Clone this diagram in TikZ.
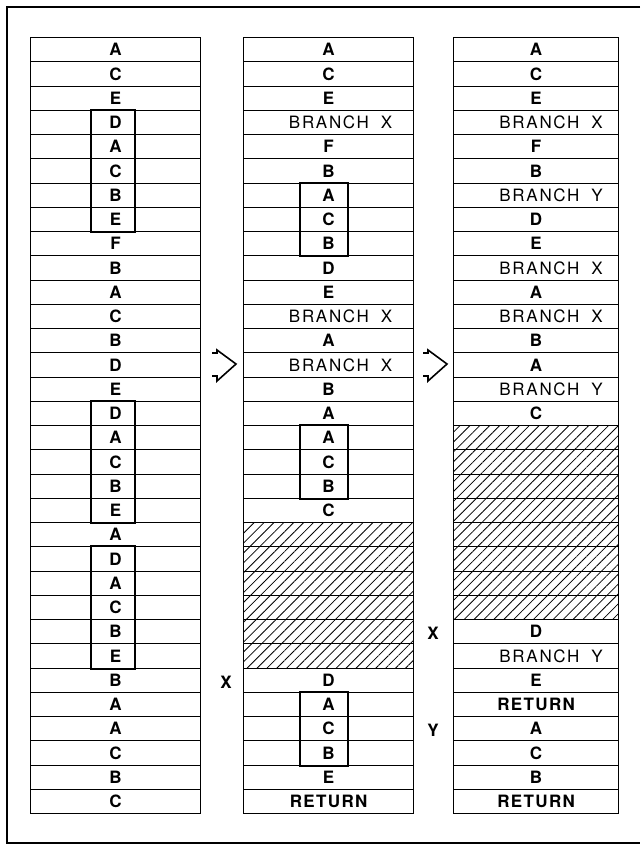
\documentclass[tikz,border=0pt]{standalone}
\usepackage{fontspec}
\setmainfont{TeX Gyre Heros}
\usetikzlibrary{patterns.meta}
\begin{document}
\begin{tikzpicture}[x=1pt,y=-1pt,
  cellbase/.style={draw, line width=1.2pt, minimum height=24.25pt, inner sep=0pt, anchor=north west},
  letterc/.style={font=\fontsize{17}{17}\selectfont\bfseries},
  branchc/.style={font=\fontsize{17}{17}\selectfont\addfontfeature{LetterSpace=10}},
  returnc/.style={font=\fontsize{17}{17}\selectfont\bfseries\addfontfeature{LetterSpace=8}},
  hatchc/.style={pattern={Lines[angle=45,distance=7pt,line width=0.8pt]}},
  boxline/.style={line width=2pt},
  arrowline/.style={line width=1.6pt, line join=miter},
  tag/.style={font=\fontsize{17}{17}\selectfont\bfseries, inner sep=0pt}]
\useasboundingbox (0,0) rectangle (640,846);
% frame
\draw[line width=2pt] (640,7) -- (7,7) -- (7,843) -- (640,843);
% left column
\foreach \t [count=\i] in {A,C,E,D,A,C,B,E,F,B,A,C,B,D,E,D,A,C,B,E,A,D,A,C,B,E,B,A,A,C,B,C}
  \node[cellbase, letterc, minimum width=170pt] (L\i) at (30,{37+(\i-1)*24.25}) {\t};
% middle column
\foreach \s/\t [count=\i] in {letterc/A,letterc/C,letterc/E,branchc/{\hspace*{24pt}BRANCH\hspace{0.7em}X},letterc/F,letterc/B,letterc/A,letterc/C,letterc/B,letterc/D,letterc/E,branchc/{\hspace*{24pt}BRANCH\hspace{0.7em}X},letterc/A,branchc/{\hspace*{24pt}BRANCH\hspace{0.7em}X},letterc/B,letterc/A,letterc/A,letterc/C,letterc/B,letterc/C,hatchc/{},hatchc/{},hatchc/{},hatchc/{},hatchc/{},hatchc/{},letterc/D,letterc/A,letterc/C,letterc/B,letterc/E,returnc/RETURN}
  \node[cellbase, \s, minimum width=170pt] (M\i) at (243,{37+(\i-1)*24.25}) {\t};
% right column
\foreach \s/\t [count=\i] in {letterc/A,letterc/C,letterc/E,branchc/{\hspace*{30pt}BRANCH\hspace{0.7em}X},letterc/F,letterc/B,branchc/{\hspace*{30pt}BRANCH\hspace{0.7em}Y},letterc/D,letterc/E,branchc/{\hspace*{30pt}BRANCH\hspace{0.7em}X},letterc/A,branchc/{\hspace*{30pt}BRANCH\hspace{0.7em}X},letterc/B,letterc/A,branchc/{\hspace*{30pt}BRANCH\hspace{0.7em}Y},letterc/C,hatchc/{},hatchc/{},hatchc/{},hatchc/{},hatchc/{},hatchc/{},hatchc/{},hatchc/{},letterc/D,branchc/{\hspace*{30pt}BRANCH\hspace{0.7em}Y},letterc/E,returnc/RETURN,letterc/A,letterc/C,letterc/B,returnc/RETURN}
  \node[cellbase, \s, minimum width=165pt] (R\i) at (453,{37+(\i-1)*24.25}) {\t};
% boxes
\coordinate (lbl) at (91,0);
\coordinate (lbr) at (135,0);
\coordinate (mbl) at (300,0);
\coordinate (mbr) at (348,0);
\draw[boxline] (L4.north -| lbl) rectangle (L8.south -| lbr);
\draw[boxline] (L16.north -| lbl) rectangle (L20.south -| lbr);
\draw[boxline] (L22.north -| lbl) rectangle (L26.south -| lbr);
\draw[boxline] (M7.north -| mbl) rectangle (M9.south -| mbr);
\draw[boxline] (M17.north -| mbl) rectangle (M19.south -| mbr);
\draw[boxline] (M28.north -| mbl) rectangle (M30.south -| mbr);
% arrows
\coordinate (a1) at (212,364);
\coordinate (a2) at (423,364);
\foreach \a in {a1,a2}
  \draw[arrowline] ([shift={(0,-11)}]\a) -- ++(5,0) -- ++(0,-3) -- ([shift={(24,0)}]\a) -- ([shift={(5,17)}]\a) -- ++(0,-5) -- ++(-5,0);
% labels
\node[tag] (tx1) at (226,682) {X};
\node[tag] (tx2) at (433,633) {X};
\node[tag] (ty) at (433,730) {Y};
\end{tikzpicture}
\end{document}
